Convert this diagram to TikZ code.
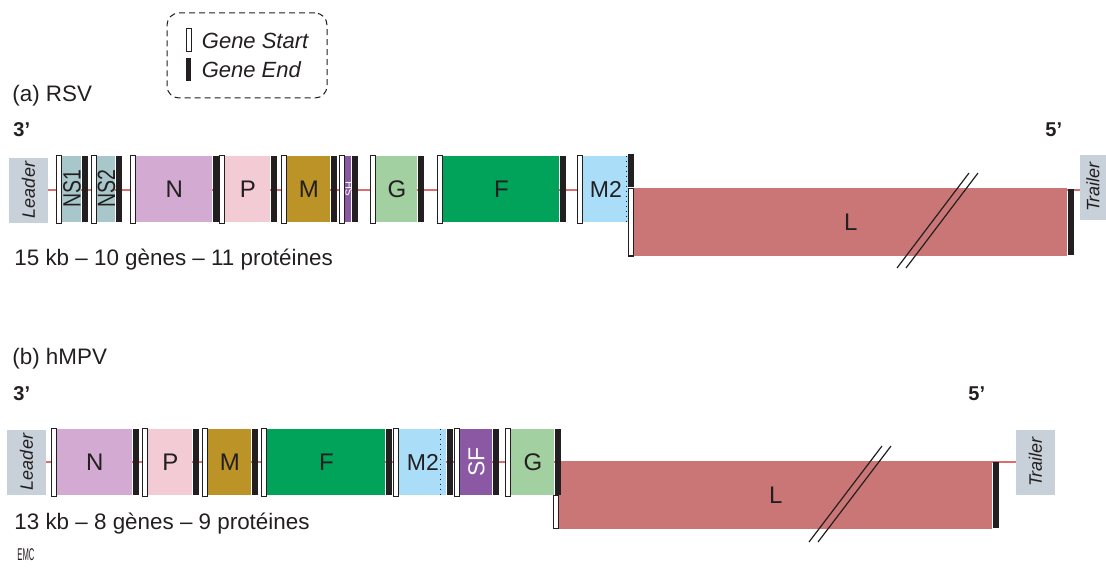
\documentclass[tikz,border=0pt]{standalone}
\usepackage{fontspec}
\setmainfont{Liberation Sans}
\usetikzlibrary{positioning, backgrounds}
\definecolor{inkcol}{HTML}{231F20}
\definecolor{flankcol}{HTML}{C8D1D9}
\definecolor{nscol}{HTML}{A8C7CB}
\definecolor{ncol}{HTML}{D3AAD1}
\definecolor{pcol}{HTML}{F2CBD5}
\definecolor{mcol}{HTML}{BC9327}
\definecolor{shcol}{HTML}{8B58A4}
\definecolor{gcol}{HTML}{A3D0A0}
\definecolor{fcol}{HTML}{00A359}
\definecolor{mtwocol}{HTML}{AADEF8}
\definecolor{lcol}{HTML}{CB7676}
\definecolor{linecol}{HTML}{DC6E6E}
\tikzset{
    gene/.style={rectangle, inner sep=0pt, minimum height=33pt, anchor=west, text=inkcol, font=\fontsize{12}{14}\selectfont},
    gstart/.style={draw=inkcol, line width=0.5pt, fill=white, inner sep=0pt, minimum width=2.5pt, minimum height=34pt, anchor=east},
    gend/.style={fill=inkcol, inner sep=0pt, minimum width=3pt, minimum height=33pt, anchor=west},
    glabel/.style={rotate=90, inner sep=0pt, font=\fontsize{12.5}{14}\selectfont},
    flank/.style={fill=flankcol, rotate=90, inner sep=0pt, minimum width=32.5pt, minimum height=19.5pt, text=inkcol, font=\itshape\fontsize{9}{10}\selectfont},
    genome/.style={draw=linecol, line width=0.7pt},
    brk/.style={draw=inkcol, line width=0.6pt},
    txt/.style={inner sep=0pt, anchor=base west, text=inkcol, font=\fontsize{11.2}{13}\selectfont},
    endtxt/.style={inner sep=0pt, anchor=base west, text=inkcol, font=\bfseries\fontsize{10}{12}\selectfont},
    keybox/.style={draw=inkcol, line width=0.5pt, dash pattern=on 3pt off 2pt, rounded corners=6pt, minimum width=80pt, minimum height=42.5pt},
    keytext/.style={inner sep=0pt, anchor=west, text=inkcol, font=\itshape\fontsize{11}{13}\selectfont}
}

\begin{document}
\begin{tikzpicture}[x=0.5pt, y=-0.5pt]
    \useasboundingbox (0,0) rectangle (1106,567);
    % ---- legend
    \node[keybox] (key) at (247,55.5) {};
    \node[gstart, anchor=center, minimum height=11.5pt] (keyS) at (188.5,40.5) {};
    \node[gend, anchor=center, minimum width=2.5pt, minimum height=11.5pt] (keyE) at (188.5,69.5) {};
    \node[keytext, right=5pt of keyS] (keySt) {Gene Start};
    \node[keytext, right=5pt of keyE] (keyEt) {Gene End};
    % ---- (a) RSV
    \node[txt] (titleA) at (12,102) {(a) RSV};
    \node[endtxt] (threeA) at (13,136) {3’};
    \node[endtxt] (fiveA) at (1045,136) {5’};
    \node[txt] (sizeA) at (14,265) {15 kb -- 10 gènes -- 11 protéines};
    \node[flank] (leadA) at (28.5,190) {Leader};
    \node[flank, minimum height=13pt] (trailA) at (1093,187) {Trailer};
    \node[gene, fill=nscol, minimum width=9.5pt] (ns1A) at (62,189) {};
    \node[gene, fill=nscol, minimum width=9pt] (ns2A) at (97,189) {};
    \node[gene, fill=ncol, minimum width=38pt] (nA) at (136,189) {N};
    \node[gene, fill=pcol, minimum width=22.5pt] (pA) at (225,189) {P};
    \node[gene, fill=mcol, minimum width=21.5pt] (mA) at (287,189) {M};
    \node[gene, fill=shcol, minimum width=3pt] (shA) at (345,189) {};
    \node[gene, fill=gcol, minimum width=20.5pt] (gA) at (376,189) {G};
    \node[gene, fill=fcol, minimum width=58pt] (fA) at (443,189) {F};
    \node[gene, fill=mtwocol, minimum width=22.5pt, font=\fontsize{11.5}{13}\selectfont] (m2A) at (583,189) {M2};
    \node[gene, fill=lcol, minimum width=216.5pt, minimum height=34pt] (lA) at (634,222) {L};
    \node[glabel, text=inkcol] at (ns1A) {\scalebox{0.78}[1]{NS1}};
    \node[glabel, text=inkcol] at (ns2A) {\scalebox{0.78}[1]{NS2}};
    \node[glabel, text=white, font=\fontsize{5.5}{6}\selectfont] at ([xshift=0.5pt]shA) {SH};
    \foreach \g in {ns1A, ns2A, nA, pA, mA, shA, gA, fA, lA} {
        \node[gstart] at (\g.west) {};
        \node[gend] at (\g.east) {};
    }
    \node[gstart] at (m2A.west) {};
    \draw[inkcol, line width=0.5pt, dotted] ([xshift=-1.2pt]m2A.north east) -- ([xshift=-1.2pt]m2A.south east);
    \node[gend, anchor=south east, minimum height=16.5pt] (m2Ae) at (lA.north west) {};
    \node[gstart, anchor=north east, minimum height=33.5pt] (lAs) at (lA.north west) {};
    \draw[brk] (897,268) -- (969,173);
    \draw[brk] (906,268) -- (978,173);
    \begin{scope}[on background layer]
        \draw[genome] (leadA) -- (leadA -| trailA);
    \end{scope}
    % ---- (b) hMPV
    \node[txt] (titleB) at (12,364) {(b) hMPV};
    \node[endtxt] (threeB) at (13,400) {3’};
    \node[endtxt] (fiveB) at (968,400) {5’};
    \node[txt] (sizeB) at (14,529) {13 kb -- 8 gènes -- 9 protéines};
    \node[flank] (leadB) at (26.5,462) {Leader};
    \node[flank] (trailB) at (1035.5,462) {Trailer};
    \node[gene, fill=ncol, minimum width=37.5pt] (nB) at (57,462) {N};
    \node[gene, fill=pcol, minimum width=22pt] (pB) at (148,462) {P};
    \node[gene, fill=mcol, minimum width=21.5pt] (mB) at (208,462) {M};
    \node[gene, fill=fcol, minimum width=59pt] (fB) at (267,462) {F};
    \node[gene, fill=mtwocol, minimum width=23.5pt, font=\fontsize{11.5}{13}\selectfont] (m2B) at (399,462) {M2};
    \node[gene, fill=shcol, minimum width=16pt] (sfB) at (460,462) {};
    \node[gene, fill=gcol, minimum width=21.5pt] (gB) at (511,462) {G};
    \node[gene, fill=lcol, minimum width=216.5pt, minimum height=34pt] (lB) at (559,495) {L};
    \node[glabel, text=white, font=\fontsize{11.5}{13}\selectfont] at (sfB) {SF};
    \foreach \g in {nB, pB, mB, fB, m2B, sfB, gB} {
        \node[gstart] at (\g.west) {};
        \node[gend] at (\g.east) {};
    }
    \node[gend] at (lB.east) {};
    \draw[inkcol, line width=0.5pt, dotted] ([xshift=-3pt]m2B.north east) -- ([xshift=-3pt]m2B.south east);
    \node[gstart, anchor=north east, minimum height=16.5pt] (lBs) at (lB.west |- gB.south) {};
    \draw[brk] (809,542) -- (882,446);
    \draw[brk] (818,542) -- (891,446);
    \begin{scope}[on background layer]
        \draw[genome] (leadB) -- (trailB);
    \end{scope}
    % ----
    \node[txt, font=\fontsize{8.5}{9}\selectfont] (emc) at (17,560) {\scalebox{0.45}[1]{EMC}};
\end{tikzpicture}
\end{document}
